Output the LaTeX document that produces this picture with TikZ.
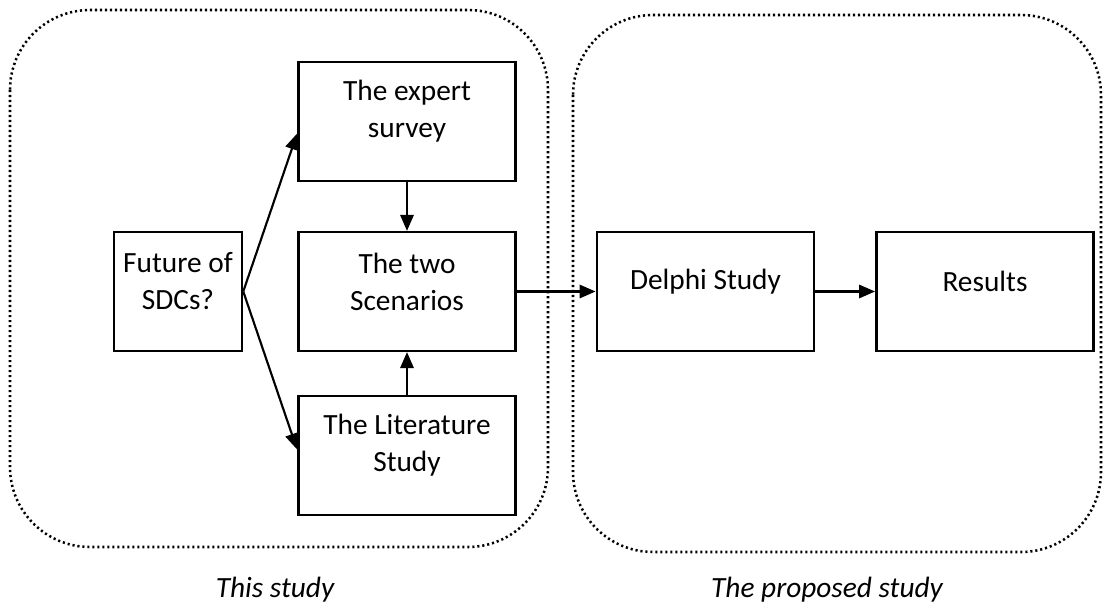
\documentclass[tikz,border=0pt]{standalone}
\usepackage{fontspec}
\setmainfont{Carlito}
\usetikzlibrary{arrows.meta,calc}

\tikzset{
  % rounded dotted frames grouping the two studies
  frame/.style={draw, line width=1.9pt, dash pattern=on 1.6pt off 2.15pt,
                rounded corners=60pt},
  % process boxes; the text sits slightly above the box centre
  stepbox/.style={draw, line width=1.9pt, minimum width=163pt, minimum height=89pt,
                  inner sep=0pt},
  boxtext/.style={align=center, yshift=7.5pt, font=\fontsize{22pt}{27.75pt}\selectfont},
  flow/.style={line width=1.6pt, -{Triangle[length=12pt,width=10pt]}},
  caption/.style={font=\fontsize{22pt}{26pt}\selectfont\itshape}
}

\begin{document}
\begin{tikzpicture}[x=0.75pt, y=-0.75pt]
  \useasboundingbox (0,0) rectangle (1103,606);

  % group frames
  \draw[frame] (10,10) rectangle (548,547);
  \draw[frame] (573,15) rectangle (1101,552);

  % boxes
  \node[stepbox, minimum width=96pt, label={[boxtext]center:{Future of\\SDCs?}}] (fut) at (178,291.5) {};
  \node[stepbox, label={[boxtext]center:{The expert\\survey}}] (exp) at (407,121.5) {};
  \node[stepbox, label={[boxtext]center:{The two\\Scenarios}}] (sce) at (407,291.5) {};
  \node[stepbox, label={[boxtext]center:{The Literature\\Study}}] (lit) at (407,455.5) {};
  \node[stepbox, label={[boxtext]center:{Delphi Study}}] (del) at (705.5,291.5) {};
  \node[stepbox, label={[boxtext]center:{Results}}] (res) at (985,291.5) {};

  % connectors
  \draw[flow] (fut.east) -- ($(exp.north west)!0.6!(exp.south west)$);
  \draw[flow] (fut.east) -- ($(lit.north west)!0.45!(lit.south west)$);
  \draw[flow] (exp.south) -- (sce.north);
  \draw[flow] (lit.north) -- (sce.south);
  \draw[flow] (sce.east) -- (del.west);
  \draw[flow] (del.east) -- (res.west);

  % captions under the frames
  \node[caption] (cap1) at (275,590) {This study};
  \node[caption] (cap2) at (827,590) {The proposed study};
\end{tikzpicture}
\end{document}
